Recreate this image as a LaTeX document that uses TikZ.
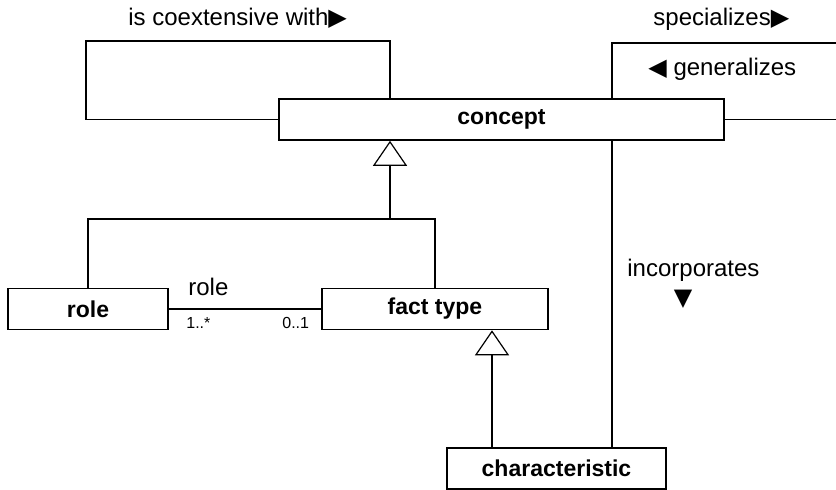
\documentclass[tikz,border=0pt]{standalone}
\usepackage{fontspec}
\setmainfont{Liberation Sans}
\newfontfamily\symfont{DejaVu Sans}
\usetikzlibrary{arrows.meta}

\begin{document}
\begin{tikzpicture}[x=0.5pt, y=-0.5pt,
	cls/.style={draw, line width=0.8pt, minimum height=20.5pt, inner sep=0pt, font=\fontsize{11.5}{13}\selectfont\bfseries},
	lnk/.style={line width=0.6pt},
	gen/.style={lnk, -{Triangle[open, length=12.5pt, width=17pt]}},
	lbl/.style={inner sep=0pt, anchor=base west, font=\fontsize{12}{14}\selectfont},
	mult/.style={inner sep=0pt, anchor=base west, font=\fontsize{8}{10}\selectfont}]
				\clip (0,0) rectangle (836,490);
				% classes
				\node[cls, minimum width=222.5pt] (concept) at (501.5,119.5) {concept};
				\node[cls, minimum width=80pt] (role) at (88,309) {role};
				\node[cls, minimum width=113pt] (fact) at (435,309) {fact type};
				\node[cls, minimum width=109.5pt] (char) at (556.5,468.5) {characteristic};
				% bends
				\coordinate (coA) at (86,41);
				\coordinate (coB) at (390,41);
				\coordinate (spA) at (612,43);
				\coordinate (spB) at (850,43);
				\coordinate (gen1) at (390,219);
				\coordinate (gen2) at (492,0);
				% links
				\draw[lnk] (concept.west) -| (coA) -- (coB) -- (coB |- concept.north);
				\draw[lnk] (spA |- concept.north) -- (spA) -- (spB) |- (concept.east);
				\draw[lnk] (spA |- concept.south) -- (spA |- char.north);
				\draw[lnk] (role.north) |- (gen1) -| (fact.north);
				\draw[gen] (gen1) -- (gen1 |- concept.south);
				\draw[gen] (gen2 |- char.north) -- (gen2 |- fact.south);
				\draw[lnk] (role.east) -- (fact.west);
				% labels
				\node[lbl] (coext) at (128,26) {is coextensive with{\symfont▶}};
				\node[lbl] (spec) at (653,26) {specializes{\symfont▶}};
				\node[lbl] (gener) at (648,76) {{\symfont◀} generalizes};
				\node[lbl] (incorp) at (627,277) {incorporates};
				\node[inner sep=0pt, font=\fontsize{12}{14}\selectfont\symfont] (incarr) at (683,299.5) {▼};
				\node[lbl] (rolelbl) at (188,296) {role};
				\node[mult] (m1) at (186,329) {1..*};
				\node[mult] (m2) at (282,329) {0..1};
\end{tikzpicture}
\end{document}
